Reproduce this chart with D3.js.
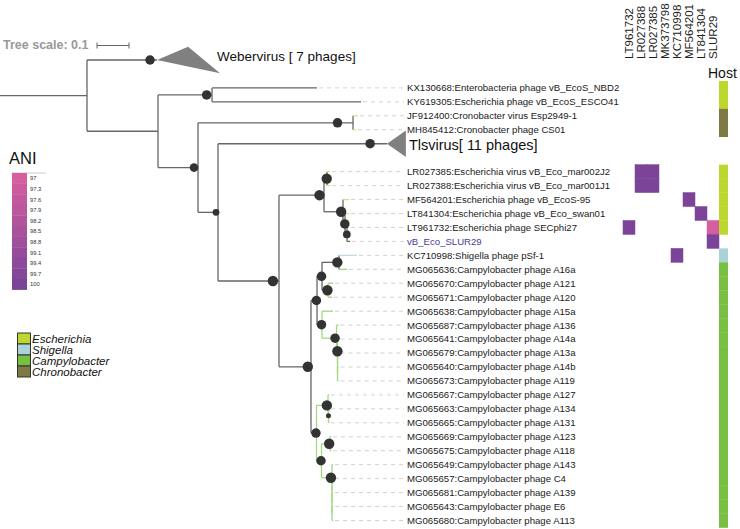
<!DOCTYPE html>
<html><head><meta charset="utf-8">
<script src="https://cdn.jsdelivr.net/npm/d3@7"></script>
<style>
body{margin:0;background:#fff}
svg{display:block}
text{font-family:"Liberation Sans",Arial,Helvetica,sans-serif}
</style>
</head><body>
<svg id="c" width="740" height="529"></svg>
<script>
// ---------------- DATA ----------------
// Phylogeny (Newick, branch lengths in substitutions/site, internal labels = bootstrap support)
const newick = "((Webervirus:0.2188,((KX130668:0.3281,KY619305:0.4656)95:0.1688,((JF912400:0.0156,MH845412:0.0094)95:0.4844,(Tlsvirus:0.5281,(((LR027385:0.0094,LR027388:0.0094)100:0.0094,(MF564201:0.0188,(LT841304:0.0125,(LT961732:0.0063,SLUR29:0.0094)85:0.0063)95:0.0063)100:0.0594)100:0.1406,((((KC710998:0.0563,MG065636:0.025)100:0.0531,(MG065670:0.0156,MG065671:0.0125)100:0.0188)95:0.0156,(MG065638:0.0344,(MG065687:0.0063,(MG065641:0.0031,(MG065679:0.0031,(MG065640:0.0031,MG065673:0.0031):0):0)100:0.0031)95:0.0453)95:0.0156)95:0.0188,((MG065667:0.0031,(MG065663:0.0016,MG065665:0.0016)70:0.0016)100:0.0359,((MG065669:0.0031,MG065675:0.0031)100:0.0266,(MG065649:0.0031,(MG065657:0.0031,(MG065681:0.0031,(MG065643:0.0031,MG065680:0.0031):0):0):0)100:0.0328)95:0.0156)95:0.0172)100:0.1)100:0.1906)80:0.0625)90:0.125):0.2219):0.2719);";

// Leaf order top to bottom ("" = empty row)
const leafRows = ["Webervirus","","KX130668","KY619305","JF912400","MH845412","Tlsvirus","","LR027385","LR027388","MF564201","LT841304","LT961732","SLUR29","KC710998","MG065636","MG065670","MG065671","MG065638","MG065687","MG065641","MG065679","MG065640","MG065673","MG065667","MG065663","MG065665","MG065669","MG065675","MG065649","MG065657","MG065681","MG065643","MG065680"];

const leafIds = ["KX130668","KY619305","JF912400","MH845412","LR027385","LR027388","MF564201","LT841304","LT961732","SLUR29","KC710998","MG065636","MG065670","MG065671","MG065638","MG065687","MG065641","MG065679","MG065640","MG065673","MG065667","MG065663","MG065665","MG065669","MG065675","MG065649","MG065657","MG065681","MG065643","MG065680"];
const leafNames = ["KX130668:Enterobacteria phage vB_EcoS_NBD2","KY619305:Escherichia phage vB_EcoS_ESCO41","JF912400:Cronobacter virus Esp2949-1","MH845412:Cronobacter phage CS01","LR027385:Escherichia virus vB_Eco_mar002J2","LR027388:Escherichia virus vB_Eco_mar001J1","MF564201:Escherichia phage vB_EcoS-95","LT841304:Escherichia phage vB_Eco_swan01","LT961732:Escherichia phage SECphi27","vB_Eco_SLUR29","KC710998:Shigella phage pSf-1","MG065636:Campylobacter phage A16a","MG065670:Campylobacter phage A121","MG065671:Campylobacter phage A120","MG065638:Campylobacter phage A15a","MG065687:Campylobacter phage A136","MG065641:Campylobacter phage A14a","MG065679:Campylobacter phage A13a","MG065640:Campylobacter phage A14b","MG065673:Campylobacter phage A119","MG065667:Campylobacter phage A127","MG065663:Campylobacter phage A134","MG065665:Campylobacter phage A131","MG065669:Campylobacter phage A123","MG065675:Campylobacter phage A118","MG065649:Campylobacter phage A143","MG065657:Campylobacter phage C4","MG065681:Campylobacter phage A139","MG065643:Campylobacter phage E6","MG065680:Campylobacter phage A113"];
const leafHosts = ["Escherichia","Escherichia","Chronobacter","Chronobacter","Escherichia","Escherichia","Escherichia","Escherichia","Escherichia","","Shigella","Campylobacter","Campylobacter","Campylobacter","Campylobacter","Campylobacter","Campylobacter","Campylobacter","Campylobacter","Campylobacter","Campylobacter","Campylobacter","Campylobacter","Campylobacter","Campylobacter","Campylobacter","Campylobacter","Campylobacter","Campylobacter","Campylobacter"];

// Collapsed clades: label, extra depth of shortest / longest member
const collapsedIds = ["Webervirus","Tlsvirus"];
const collapsedLabels = ["Webervirus [ 7 phages]","Tlsvirus[ 11 phages]"];
const collapsedMinExt = [0.097, 0.059];
const collapsedMaxExt = [0.197, 0.059];

// ANI heatmap
const aniCols = ["LT961732","LR027388","LR027385","MK373798","KC710998","MF564201","LT841304","SLUR29"];
const aniRowIds = ["LR027385","LR027385","LR027388","LR027388","MF564201","LT841304","LT961732","LT961732","SLUR29","KC710998"];
const aniColIds = ["LR027388","LR027385","LR027388","LR027385","MF564201","LT841304","LT961732","SLUR29","SLUR29","KC710998"];
const aniValues = [100,100,100,100,100,100,100,97,100,100];
const aniTicks = [97,97.3,97.6,97.9,98.2,98.5,98.8,99.1,99.4,99.7,100];

// Host legend
const hostCats = ["Escherichia","Shigella","Campylobacter","Chronobacter"];
const hostColors = ["#bed72f","#aad3d7","#78c042","#7f7a45"];
const hostStubColors = ["#d4e47c","#bde0e3","#9fd57f","#d4e47c"];

const treeScaleValue = 0.1;

// ---------------- DRAW ----------------
function parseNewick(s){
  let i=0;
  function node(){
    const n={};
    if(s[i]==='('){
      n.children=[]; i++;
      while(true){ n.children.push(node()); if(s[i]===','){i++;continue;} break; }
      i++; // ')'
    }
    let name=''; while(i<s.length && !',):;'.includes(s[i])) name+=s[i++];
    n.name=name;
    if(s[i]===':'){ i++; let l=''; while(i<s.length && !',);'.includes(s[i])) l+=s[i++]; n.len=+l; } else n.len=0;
    return n;
  }
  return node();
}

const svg = d3.select("#c");
const root = d3.hierarchy(parseNewick(newick));
root.each(d=>{ d.dist = d.parent ? d.parent.dist + d.data.len : 0; });

const xs = d3.scaleLinear().domain([0, treeScaleValue]).range([0, 32]);
const ys = d3.scaleLinear().domain([0, leafRows.length-1]).range([60, 520.5]);
const step = ys(1)-ys(0);
root.eachAfter(d=>{
  if(!d.children) d.y = ys(leafRows.indexOf(d.data.name));
  else d.y = (d.children[0].y + d.children[d.children.length-1].y)/2;
});

const hostColor = d3.scaleOrdinal().domain(hostCats).range(hostColors);
const stubColor = d3.scaleOrdinal().domain(hostCats).range(hostStubColors);
const hostOf = id => leafHosts[leafIds.indexOf(id)];
const allCampy = d => d.leaves().every(l=>hostOf(l.data.name)==="Campylobacter");

const LINE="#666", GREEN="#a2d884";
const gTree = svg.append("g");
const labelX = 407;

// branches
root.descendants().forEach(d=>{
  if(d.parent){
    let col = LINE;
    if(!d.children && d.data.len < 0.06 && hostOf(d.data.name)) col = stubColor(hostOf(d.data.name));
    else if(d.parent.parent && allCampy(d.parent)) col = GREEN;
    gTree.append("line").attr("x1",xs(d.parent.dist)).attr("x2",xs(d.dist)).attr("y1",d.y).attr("y2",d.y)
      .attr("stroke",col).attr("stroke-width",1.3);
  }
  if(d.children){
    const c = (d.parent && allCampy(d)) ? GREEN : LINE;
    gTree.append("line").attr("x1",xs(d.dist)).attr("x2",xs(d.dist))
      .attr("y1",d.children[0].y).attr("y2",d.children[d.children.length-1].y)
      .attr("stroke",c).attr("stroke-width",1.3);
  }
});

// leaf leaders + labels
root.leaves().forEach(d=>{
  const ci = collapsedIds.indexOf(d.data.name);
  if(ci>=0){
    const x0=xs(d.dist), x1=xs(d.dist+collapsedMinExt[ci]), x2=xs(d.dist+collapsedMaxExt[ci]);
    const h = step*0.95;
    gTree.append("path").attr("d",`M${x0},${d.y}L${x1},${d.y-h}L${x2},${d.y+h}Z`).attr("fill","#808080");
    const big = ci===0;
    gTree.append("text").attr("x", big ? x2-3 : x2+3).attr("y", big ? d.y+1 : d.y+6)
      .attr("font-size", big?13.5:14.5).attr("fill","#111").text(collapsedLabels[ci]);
    return;
  }
  gTree.append("line").attr("x1",xs(d.dist)+2).attr("x2",labelX-3).attr("y1",d.y).attr("y2",d.y)
    .attr("stroke","#d2d2d2").attr("stroke-width",1).attr("stroke-dasharray","4,4");
  const k = leafIds.indexOf(d.data.name);
  gTree.append("text").attr("x",labelX).attr("y",d.y+3.4).attr("font-size",9.6)
    .attr("fill", d.data.name==="SLUR29" ? "#4a3c96" : "#1a1a1a").text(leafNames[k]);
});

// support circles
const rs = d3.scaleLinear().domain([70,100]).range([2.5,5.2]);
root.descendants().forEach(d=>{
  const isCollapsed = !d.children && collapsedIds.includes(d.data.name);
  if((d.children && d.data.name!=="") || isCollapsed){
    const sup = d.children ? +d.data.name : 95;
    if(!isFinite(sup)) return;
    gTree.append("circle").attr("cx",xs(d.parent.dist + 0.9*d.data.len)).attr("cy",d.y).attr("r",rs(sup)).attr("fill","#333");
  }
});

// tree scale
svg.append("text").attr("x",3).attr("y",49).attr("font-size",12.5).attr("font-weight","bold").attr("fill","#999").text("Tree scale: "+treeScaleValue);
const sx0=97, sx1=sx0+xs(treeScaleValue)-xs(0);
svg.append("path").attr("d",`M${sx0},42.5V48.5M${sx0},45.5H${sx1}M${sx1},42.5V48.5`).attr("stroke","#666").attr("fill","none").attr("stroke-width",1);

// ANI heatmap
const cx = d3.scaleBand().domain(aniCols).range([623,719]);
const aniColor = d3.scaleLinear().domain([97,100]).range(["#d55f9f","#7b4499"]).interpolate(d3.interpolateRgb);
aniCols.forEach(c=>{
  svg.append("text").attr("transform",`translate(${cx(c)+cx.bandwidth()/2+4.2},59) rotate(-90)`)
    .attr("font-size",11.5).attr("fill","#222").text(c);
});
aniValues.forEach((v,i)=>{
  const y = ys(leafRows.indexOf(aniRowIds[i]));
  svg.append("rect").attr("x",cx(aniColIds[i])).attr("y",y-step/2).attr("width",cx.bandwidth()).attr("height",step)
    .attr("fill",aniColor(v)).attr("stroke",aniColor(v)).attr("stroke-width",0.5);
});

// Host column
svg.append("text").attr("x",708).attr("y",78).attr("font-size",14).attr("fill","#111").text("Host");
leafIds.forEach((id,i)=>{
  if(!leafHosts[i]) return;
  const y = ys(leafRows.indexOf(id));
  svg.append("rect").attr("x",719).attr("y",y-step/2).attr("width",9).attr("height",step+0.3)
    .attr("fill",hostColor(leafHosts[i]));
});

// ANI legend
svg.append("text").attr("x",9).attr("y",164).attr("font-size",16.5).attr("fill","#111").text("ANI");
const lb = d3.scaleBand().domain(aniTicks).range([173,289.6]);
svg.append("line").attr("x1",12).attr("x2",46).attr("y1",173).attr("y2",173).attr("stroke","#ccc").attr("stroke-width",1.2);
aniTicks.forEach(t=>{
  svg.append("rect").attr("x",12).attr("y",lb(t)).attr("width",15).attr("height",lb.bandwidth()+0.3).attr("fill",aniColor(t));
  svg.append("text").attr("x",30).attr("y",lb(t)+lb.bandwidth()/2+2).attr("font-size",5.8).attr("fill","#333").text(t);
});

// Host legend
hostCats.forEach((h,i)=>{
  const y = 333 + i*11;
  svg.append("rect").attr("x",17.5).attr("y",y).attr("width",13).attr("height",11)
    .attr("fill",hostColors[i]).attr("stroke","#333").attr("stroke-width",1);
  svg.append("text").attr("x",32).attr("y",y+9.5).attr("font-size",11.5).attr("font-style","italic").attr("fill","#111").text(h);
});
</script>
</body></html>
